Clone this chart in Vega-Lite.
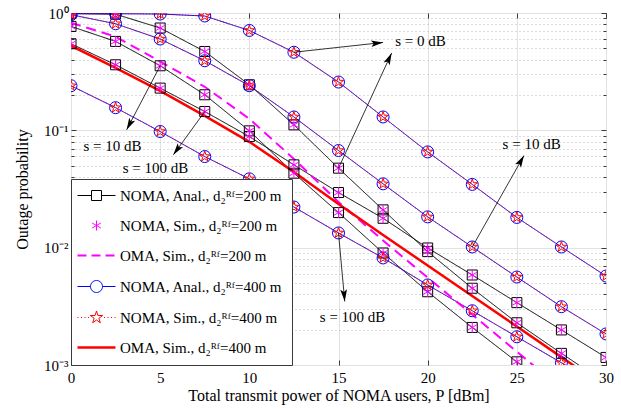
{
"$schema": "https://vega.github.io/schema/vega-lite/v6.json",
"width": 535, "height": 352,
"autosize": {"type": "none"},
"padding": {"left": 71, "top": 13, "right": 15, "bottom": 44},
"background": "white",
"config": {"font": "Liberation Serif", "view": {"stroke": "#3a3a3a", "strokeWidth": 1}},
"datasets": {
"curves": [
{"series":"a200","s":0,"x":0,"p":0.99},{"series":"a200","s":0,"x":2.5,"p":0.977},{"series":"a200","s":0,"x":5,"p":0.745},{"series":"a200","s":0,"x":7.5,"p":0.47},{"series":"a200","s":0,"x":10,"p":0.2445},{"series":"a200","s":0,"x":12.5,"p":0.1114},{"series":"a200","s":0,"x":15,"p":0.0476},{"series":"a200","s":0,"x":17.5,"p":0.021},{"series":"a200","s":0,"x":20,"p":0.00925},{"series":"a200","s":0,"x":22.5,"p":0.00451},{"series":"a200","s":0,"x":25,"p":0.00229},{"series":"a200","s":0,"x":27.5,"p":0.001256},{"series":"a200","s":0,"x":30,"p":0.0007},
{"series":"a200","s":10,"x":0,"p":0.769},{"series":"a200","s":10,"x":2.5,"p":0.5725},{"series":"a200","s":10,"x":5,"p":0.355},{"series":"a200","s":10,"x":7.5,"p":0.201},{"series":"a200","s":10,"x":10,"p":0.099},{"series":"a200","s":10,"x":12.5,"p":0.0431},{"series":"a200","s":10,"x":15,"p":0.0199},{"series":"a200","s":10,"x":17.5,"p":0.00901},{"series":"a200","s":10,"x":20,"p":0.00421},{"series":"a200","s":10,"x":22.5,"p":0.00209},{"series":"a200","s":10,"x":25,"p":0.001064},{"series":"a200","s":10,"x":27.5,"p":0.00055},
{"series":"a200","s":100,"x":0,"p":0.547},{"series":"a200","s":100,"x":2.5,"p":0.362},{"series":"a200","s":100,"x":5,"p":0.229},{"series":"a200","s":100,"x":7.5,"p":0.1446},{"series":"a200","s":100,"x":10,"p":0.0885},{"series":"a200","s":100,"x":12.5,"p":0.0508},{"series":"a200","s":100,"x":15,"p":0.0295},{"series":"a200","s":100,"x":17.5,"p":0.0178},{"series":"a200","s":100,"x":20,"p":0.00994},{"series":"a200","s":100,"x":22.5,"p":0.00585},{"series":"a200","s":100,"x":25,"p":0.0034},{"series":"a200","s":100,"x":27.5,"p":0.00199},{"series":"a200","s":100,"x":30,"p":0.00116},
{"series":"s200","s":0,"x":0,"p":0.99},{"series":"s200","s":0,"x":2.5,"p":0.977},{"series":"s200","s":0,"x":5,"p":0.745},{"series":"s200","s":0,"x":7.5,"p":0.47},{"series":"s200","s":0,"x":10,"p":0.2445},{"series":"s200","s":0,"x":12.5,"p":0.1114},{"series":"s200","s":0,"x":15,"p":0.0476},{"series":"s200","s":0,"x":17.5,"p":0.021},{"series":"s200","s":0,"x":20,"p":0.00925},{"series":"s200","s":0,"x":22.5,"p":0.00451},{"series":"s200","s":0,"x":25,"p":0.00229},{"series":"s200","s":0,"x":27.5,"p":0.001256},
{"series":"s200","s":10,"x":0,"p":0.769},{"series":"s200","s":10,"x":2.5,"p":0.5725},{"series":"s200","s":10,"x":5,"p":0.355},{"series":"s200","s":10,"x":7.5,"p":0.201},{"series":"s200","s":10,"x":10,"p":0.099},{"series":"s200","s":10,"x":12.5,"p":0.0431},{"series":"s200","s":10,"x":15,"p":0.0199},{"series":"s200","s":10,"x":17.5,"p":0.00901},{"series":"s200","s":10,"x":20,"p":0.00421},{"series":"s200","s":10,"x":22.5,"p":0.00209},{"series":"s200","s":10,"x":25,"p":0.001064},
{"series":"s200","s":100,"x":0,"p":0.547},{"series":"s200","s":100,"x":2.5,"p":0.362},{"series":"s200","s":100,"x":5,"p":0.229},{"series":"s200","s":100,"x":7.5,"p":0.1446},{"series":"s200","s":100,"x":10,"p":0.0885},{"series":"s200","s":100,"x":12.5,"p":0.0508},{"series":"s200","s":100,"x":15,"p":0.0295},{"series":"s200","s":100,"x":17.5,"p":0.0178},{"series":"s200","s":100,"x":20,"p":0.00994},{"series":"s200","s":100,"x":22.5,"p":0.00585},{"series":"s200","s":100,"x":25,"p":0.0034},{"series":"s200","s":100,"x":27.5,"p":0.00199},{"series":"s200","s":100,"x":30,"p":0.00116},
{"series":"o200","s":0,"x":0,"p":0.827},{"series":"o200","s":0,"x":2.5,"p":0.628},{"series":"o200","s":0,"x":5,"p":0.386},{"series":"o200","s":0,"x":7.5,"p":0.235},{"series":"o200","s":0,"x":10,"p":0.1254},{"series":"o200","s":0,"x":12.5,"p":0.0571},{"series":"o200","s":0,"x":15,"p":0.0245},{"series":"o200","s":0,"x":17.5,"p":0.0115},{"series":"o200","s":0,"x":20,"p":0.00556},{"series":"o200","s":0,"x":22.5,"p":0.00269},{"series":"o200","s":0,"x":25,"p":0.0013},{"series":"o200","s":0,"x":27.5,"p":0.000628},
{"series":"a400","s":0,"x":0,"p":0.986},{"series":"a400","s":0,"x":2.5,"p":0.986},{"series":"a400","s":0,"x":5,"p":0.98},{"series":"a400","s":0,"x":7.5,"p":0.943},{"series":"a400","s":0,"x":10,"p":0.71},{"series":"a400","s":0,"x":12.5,"p":0.463},{"series":"a400","s":0,"x":15,"p":0.258},{"series":"a400","s":0,"x":17.5,"p":0.13},{"series":"a400","s":0,"x":20,"p":0.0655},{"series":"a400","s":0,"x":22.5,"p":0.0346},{"series":"a400","s":0,"x":25,"p":0.0181},{"series":"a400","s":0,"x":27.5,"p":0.01014},{"series":"a400","s":0,"x":30,"p":0.00573},
{"series":"a400","s":10,"x":0,"p":0.967},{"series":"a400","s":10,"x":2.5,"p":0.81},{"series":"a400","s":10,"x":5,"p":0.6},{"series":"a400","s":10,"x":7.5,"p":0.392},{"series":"a400","s":10,"x":10,"p":0.24},{"series":"a400","s":10,"x":12.5,"p":0.13},{"series":"a400","s":10,"x":15,"p":0.0673},{"series":"a400","s":10,"x":17.5,"p":0.035},{"series":"a400","s":10,"x":20,"p":0.0183},{"series":"a400","s":10,"x":22.5,"p":0.01014},{"series":"a400","s":10,"x":25,"p":0.00562},{"series":"a400","s":10,"x":27.5,"p":0.00314},{"series":"a400","s":10,"x":30,"p":0.00184},
{"series":"a400","s":100,"x":0,"p":0.24},{"series":"a400","s":100,"x":2.5,"p":0.156},{"series":"a400","s":100,"x":5,"p":0.0977},{"series":"a400","s":100,"x":7.5,"p":0.0598},{"series":"a400","s":100,"x":10,"p":0.0386},{"series":"a400","s":100,"x":12.5,"p":0.0222},{"series":"a400","s":100,"x":15,"p":0.01335},{"series":"a400","s":100,"x":17.5,"p":0.00817},{"series":"a400","s":100,"x":20,"p":0.00481},{"series":"a400","s":100,"x":22.5,"p":0.0029},{"series":"a400","s":100,"x":25,"p":0.00174},{"series":"a400","s":100,"x":27.5,"p":0.001045},{"series":"a400","s":100,"x":30,"p":0.000635},
{"series":"s400","s":0,"x":0,"p":0.986},{"series":"s400","s":0,"x":2.5,"p":0.986},{"series":"s400","s":0,"x":5,"p":0.98},{"series":"s400","s":0,"x":7.5,"p":0.943},{"series":"s400","s":0,"x":10,"p":0.71},{"series":"s400","s":0,"x":12.5,"p":0.463},{"series":"s400","s":0,"x":15,"p":0.258},{"series":"s400","s":0,"x":17.5,"p":0.13},{"series":"s400","s":0,"x":20,"p":0.0655},{"series":"s400","s":0,"x":22.5,"p":0.0346},{"series":"s400","s":0,"x":25,"p":0.0181},{"series":"s400","s":0,"x":27.5,"p":0.01014},{"series":"s400","s":0,"x":30,"p":0.00573},
{"series":"s400","s":10,"x":0,"p":0.967},{"series":"s400","s":10,"x":2.5,"p":0.81},{"series":"s400","s":10,"x":5,"p":0.6},{"series":"s400","s":10,"x":7.5,"p":0.392},{"series":"s400","s":10,"x":10,"p":0.24},{"series":"s400","s":10,"x":12.5,"p":0.13},{"series":"s400","s":10,"x":15,"p":0.0673},{"series":"s400","s":10,"x":17.5,"p":0.035},{"series":"s400","s":10,"x":20,"p":0.0183},{"series":"s400","s":10,"x":22.5,"p":0.01014},{"series":"s400","s":10,"x":25,"p":0.00562},{"series":"s400","s":10,"x":27.5,"p":0.00314},{"series":"s400","s":10,"x":30,"p":0.00184},
{"series":"s400","s":100,"x":0,"p":0.24},{"series":"s400","s":100,"x":2.5,"p":0.156},{"series":"s400","s":100,"x":5,"p":0.0977},{"series":"s400","s":100,"x":7.5,"p":0.0598},{"series":"s400","s":100,"x":10,"p":0.0386},{"series":"s400","s":100,"x":12.5,"p":0.0222},{"series":"s400","s":100,"x":15,"p":0.01335},{"series":"s400","s":100,"x":17.5,"p":0.00817},{"series":"s400","s":100,"x":20,"p":0.00481},{"series":"s400","s":100,"x":22.5,"p":0.0029},{"series":"s400","s":100,"x":25,"p":0.00174},{"series":"s400","s":100,"x":27.5,"p":0.001045},{"series":"s400","s":100,"x":30,"p":0.000635},
{"series":"o400","s":0,"x":0,"p":0.526},{"series":"o400","s":0,"x":2.5,"p":0.341},{"series":"o400","s":0,"x":5,"p":0.217},{"series":"o400","s":0,"x":7.5,"p":0.133},{"series":"o400","s":0,"x":10,"p":0.0798},{"series":"o400","s":0,"x":12.5,"p":0.0442},{"series":"o400","s":0,"x":15,"p":0.0236},{"series":"o400","s":0,"x":17.5,"p":0.01283},{"series":"o400","s":0,"x":20,"p":0.00705},{"series":"o400","s":0,"x":22.5,"p":0.00387},{"series":"o400","s":0,"x":25,"p":0.00213},{"series":"o400","s":0,"x":27.5,"p":0.001167},{"series":"o400","s":0,"x":30,"p":0.00064}
],
"notes": [
{"label":"s = 0 dB","x":19.6,"p":0.572},
{"label":"s = 10 dB","x":2.33,"p":0.0736},
{"label":"s = 100 dB","x":4.74,"p":0.0479},
{"label":"s = 10 dB","x":25.83,"p":0.0767},
{"label":"s = 100 dB","x":15.79,"p":0.00258}
],
"arrows": [
{"ax":12.5,"ay":0.463,"bx":17.5,"by":0.561},
{"ax":15,"ay":0.0476,"bx":17.98,"by":0.456},
{"ax":5,"ay":0.355,"bx":3.12,"by":0.101},
{"ax":7.5,"ay":0.1446,"bx":5.74,"by":0.0618},
{"ax":22.5,"ay":0.01014,"bx":25.4,"by":0.061},
{"ax":15,"ay":0.01335,"bx":15.35,"by":0.00348}
]
},
"layer": [
{"layer": [
{
"data": {"name": "curves"},
"transform": [{"filter": "datum.series == 'a200' || datum.series == 'a400' || datum.series == 's400'"}],
"mark": {"type": "line", "clip": true, "strokeWidth": 1},
"encoding": {
"x": {"field": "x", "type": "quantitative", "scale": {"domain": [0, 30], "nice": false, "zero": false},
 "axis": {"values": [0,5,10,15,20,25,30], "labelFont": "Liberation Serif", "labelFontSize": 15, "labelColor": "black", "labelFlush": false, "labelPadding": 10,
  "title": "Total transmit power of NOMA users, P [dBm]", "titleFont": "Liberation Serif", "titleFontSize": 16, "titleFontWeight": "normal", "titleColor": "black", "titlePadding": 2,
  "grid": true, "gridColor": "#e2e2e2", "domain": false, "tickColor": "#3a3a3a", "tickSize": -5}},
"y": {"field": "p", "type": "quantitative", "scale": {"type": "log", "domain": [0.001, 1], "nice": false},
 "axis": {"values": [0.001,0.002,0.003,0.004,0.005,0.006,0.007,0.008,0.009,0.01,0.02,0.03,0.04,0.05,0.06,0.07,0.08,0.09,0.1,0.2,0.3,0.4,0.5,0.6,0.7,0.8,0.9,1],
  "labelExpr": "datum.value == 1 ? '10⁰' : datum.value == 0.1 ? '10⁻¹' : datum.value == 0.01 ? '10⁻²' : datum.value == 0.001 ? '10⁻³' : ''",
  "labelOverlap": false, "labelFont": "Liberation Serif", "labelFontSize": 15, "labelColor": "black", "labelPadding": 8,
  "title": "Outage probability", "titleFont": "Liberation Serif", "titleFontSize": 16, "titleFontWeight": "normal", "titleColor": "black", "titlePadding": 13,
  "grid": true,
  "gridColor": {"condition": {"test": "datum.value == 1 || datum.value == 0.1 || datum.value == 0.01 || datum.value == 0.001", "value": "#e2e2e2"}, "value": "#b8b8b8"},
  "gridDash": {"condition": {"test": "datum.value == 1 || datum.value == 0.1 || datum.value == 0.01 || datum.value == 0.001", "value": []}, "value": [1, 3]},
  "domain": false, "tickColor": "#3a3a3a",
  "tickSize": {"condition": {"test": "datum.value == 1 || datum.value == 0.1 || datum.value == 0.01 || datum.value == 0.001", "value": -5}, "value": -3}}},
"color": {"field": "series", "type": "nominal",
 "scale": {"domain": ["a200","s200","o200","a400","s400","o400"], "range": ["#000000","#ff00ff","#ff00ff","#0000ff","#ff0000","#ff0000"]},
 "legend": {"title": null, "orient": "bottom-left", "offset": 0, "padding": 9, "rowPadding": 14, "symbolSize": 400, "labelOffset": 25,
  "labelFont": "Liberation Serif", "labelFontSize": 15, "labelColor": "black", "labelLimit": 300,
  "strokeColor": "#3a3a3a", "fillColor": "white", "cornerRadius": 0, "symbolType": "M-1,0H2.8",
  "labelExpr": "datum.label == 'a200' ? 'NOMA, Anal., d₂ᴿᶠ=200 m' : datum.label == 's200' ? 'NOMA, Sim., d₂ᴿᶠ=200 m' : datum.label == 'o200' ? 'OMA, Sim., d₂ᴿᶠ=200 m' : datum.label == 'a400' ? 'NOMA, Anal., d₂ᴿᶠ=400 m' : datum.label == 's400' ? 'NOMA, Sim., d₂ᴿᶠ=400 m' : 'OMA, Sim., d₂ᴿᶠ=400 m'",
  "encode": {"symbols": {"update": {
   "shape": {"signal": "datum.value == 'a200' ? 'M-1,0H0.4M1.4,0H2.8M0.4,-0.5H1.4V0.5H0.4Z' : datum.value == 's200' ? 'M0.9,-0.5V0.5M0.467,-0.25L1.333,0.25M0.467,0.25L1.333,-0.25' : datum.value == 'o200' ? 'M-1,0H-0.1M0.4,0H1.3M1.8,0H2.7' : datum.value == 'a400' ? 'M-1,0H0.3M1.5,0H2.8M0.3,0A0.6,0.6 0 1,0 1.5,0A0.6,0.6 0 1,0 0.3,0Z' : datum.value == 's400' ? 'M-1,0h0.1M-0.65,0h0.1M-0.3,0h0.1M0.05,0h0.1M1.65,0h0.1M2,0h0.1M2.35,0h0.1M2.7,0h0.1M0.9,-0.65L1.046,-0.201L1.518,-0.201L1.136,0.077L1.282,0.526L0.9,0.248L0.518,0.526L0.664,0.077L0.282,-0.201L0.754,-0.201Z' : 'M-1,0H2.8'"},
   "stroke": {"signal": "datum.value == 'a200' ? '#000000' : (datum.value == 's200' || datum.value == 'o200') ? '#ff00ff' : datum.value == 'a400' ? '#0000ff' : '#ff0000'"},
   "strokeWidth": {"signal": "datum.value == 'o200' ? 2 : datum.value == 'o400' ? 2.5 : 1"},
   "fill": {"value": "transparent"},
   "strokeDash": {"value": []},
   "opacity": {"value": 1}
  }}}}},
"strokeDash": {"field": "series", "type": "nominal", "scale": {"domain": ["a200","a400","s400"], "range": [[1,0],[1,0],[1,2]]}, "legend": null},
"detail": {"field": "s", "type": "nominal"}
}
},
{"data": {"name": "curves"}, "transform": [{"filter": "datum.series == 'o200'"}],
 "mark": {"type": "line", "clip": true, "stroke": "#ff00ff", "strokeWidth": 2, "strokeDash": [10, 6]},
 "encoding": {"x": {"field": "x", "type": "quantitative"}, "y": {"field": "p", "type": "quantitative"}}},
{"data": {"name": "curves"}, "transform": [{"filter": "datum.series == 'o400'"}],
 "mark": {"type": "line", "clip": true, "stroke": "#ff0000", "strokeWidth": 2.5},
 "encoding": {"x": {"field": "x", "type": "quantitative"}, "y": {"field": "p", "type": "quantitative"}}},
{"data": {"name": "curves"}, "transform": [{"filter": "datum.series == 'a200'"}],
 "mark": {"type": "point", "shape": "square", "size": 100, "filled": false, "stroke": "#000000", "strokeWidth": 1, "opacity": 1, "clip": true},
 "encoding": {"x": {"field": "x", "type": "quantitative"}, "y": {"field": "p", "type": "quantitative"}}},
{"data": {"name": "curves"}, "transform": [{"filter": "datum.series == 'a400'"}],
 "mark": {"type": "point", "shape": "circle", "size": 144, "filled": false, "stroke": "#0000ff", "strokeWidth": 1, "opacity": 1, "clip": true},
 "encoding": {"x": {"field": "x", "type": "quantitative"}, "y": {"field": "p", "type": "quantitative"}}},
{"data": {"name": "curves"}, "transform": [{"filter": "datum.series == 's200'"}],
 "mark": {"type": "point", "shape": "M0,-1V1M-0.866,-0.5L0.866,0.5M-0.866,0.5L0.866,-0.5", "size": 110, "filled": false, "stroke": "#ff00ff", "strokeWidth": 1, "opacity": 1, "clip": true},
 "encoding": {"x": {"field": "x", "type": "quantitative"}, "y": {"field": "p", "type": "quantitative"}}},
{"data": {"name": "curves"}, "transform": [{"filter": "datum.series == 's400'"}],
 "mark": {"type": "point", "shape": "M0,-1L0.2245,-0.309L0.951,-0.309L0.3633,0.118L0.588,0.809L0,0.382L-0.588,0.809L-0.3633,0.118L-0.951,-0.309L-0.2245,-0.309Z", "size": 121, "filled": false, "stroke": "#ff0000", "strokeWidth": 1, "opacity": 1, "clip": true},
 "encoding": {"x": {"field": "x", "type": "quantitative"}, "y": {"field": "p", "type": "quantitative"}}},
{"data": {"name": "arrows"},
 "mark": {"type": "rule", "color": "#000000", "strokeWidth": 0.8},
 "encoding": {"x": {"field": "ax", "type": "quantitative"}, "y": {"field": "ay", "type": "quantitative"}, "x2": {"field": "bx"}, "y2": {"field": "by"}}},
{"data": {"name": "arrows"},
 "mark": {"type": "point", "shape": "M0,0L0.45,1.6L0,1.25L-0.45,1.6Z", "size": 225, "filled": true, "fill": "#000000", "strokeWidth": 0, "opacity": 1,
  "angle": {"expr": "atan2(scale('x', datum.bx) - scale('x', datum.ax), scale('y', datum.ay) - scale('y', datum.by)) * 180 / PI"}},
 "encoding": {"x": {"field": "bx", "type": "quantitative"}, "y": {"field": "by", "type": "quantitative"}}},
{"data": {"name": "notes"},
 "mark": {"type": "text", "font": "Liberation Serif", "fontSize": 15, "align": "center", "baseline": "middle", "color": "#000000"},
 "encoding": {"x": {"field": "x", "type": "quantitative"}, "y": {"field": "p", "type": "quantitative"}, "text": {"field": "label"}}}
]},
{"data": {"name": "notes"},
 "mark": {"type": "point", "opacity": 0},
 "encoding": {
  "x": {"field": "x", "type": "quantitative", "axis": {"orient": "top", "values": [0,5,10,15,20,25,30], "labels": false, "grid": false, "domain": false, "title": null, "tickColor": "#3a3a3a", "tickSize": -5}},
  "y": {"field": "p", "type": "quantitative", "axis": {"orient": "right", "values": [0.001,0.002,0.003,0.004,0.005,0.006,0.007,0.008,0.009,0.01,0.02,0.03,0.04,0.05,0.06,0.07,0.08,0.09,0.1,0.2,0.3,0.4,0.5,0.6,0.7,0.8,0.9,1], "labels": false, "grid": false, "domain": false, "title": null, "tickColor": "#3a3a3a",
   "tickSize": {"condition": {"test": "datum.value == 1 || datum.value == 0.1 || datum.value == 0.01 || datum.value == 0.001", "value": -5}, "value": -3}}}}}
],
"resolve": {"axis": {"x": "independent", "y": "independent"}}
}
